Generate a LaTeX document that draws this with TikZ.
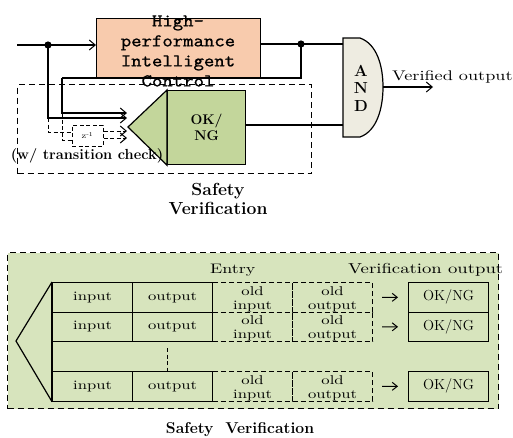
\documentclass[tikz,border=0pt]{standalone}
\usepackage{fontspec}
\usetikzlibrary{arrows.meta}
% wide serif for the plain labels, a mono face for the controller block
\newfontfamily\widerm{lmroman10-regular.otf}[FakeStretch=1.3]
\newfontfamily\hpicmono{lmmono10-regular.otf}[FakeStretch=1.1,FakeBold=0.8]

\definecolor{peach}{HTML}{F8CBAD}
\definecolor{okgreen}{HTML}{C3D69B}
\definecolor{bggreen}{HTML}{D7E4BD}
\definecolor{andgray}{HTML}{EEECE1}

\begin{document}
\begin{tikzpicture}[x=1pt,y=-1pt,
  wire/.style={line width=1.1pt},
  barb/.style={-{Straight Barb[length=6pt,width=10pt,line width=1pt]}},
  smallbarb/.style={-{Straight Barb[length=5pt,width=8pt,line width=1pt]}},
  dline/.style={line width=1pt,dash pattern=on 4pt off 2.5pt},
  dbox/.style={line width=1.1pt,dash pattern=on 6pt off 4pt},
  blk/.style={draw,line width=1.2pt,inner sep=0pt,anchor=north west},
  cell/.style={draw,line width=1.2pt,inner sep=0pt,anchor=north west,
    minimum width=80pt,minimum height=29.5pt,
    font=\widerm\fontsize{12.8}{14}\selectfont},
  dcell/.style={cell,line width=1.1pt,dash pattern=on 5pt off 3pt},
  oldtxt/.style={anchor=base,font=\widerm\fontsize{12.8}{14}\selectfont},
  boldlbl/.style={font=\bfseries\fontsize{17.5}{19}\selectfont,align=center}
]
\useasboundingbox (0,0) rectangle (513,437);

% ---------- upper block: controller with safety verification ----------
\node[blk,dbox,minimum width=294pt,minimum height=89pt] (svbox) at (17,84) {};

\node[blk,fill=peach,minimum width=164pt,minimum height=59pt] (hpic) at (96,18) {};
\node[font=\hpicmono\fontsize{18}{20}\selectfont,align=center] (hpictext) at (178,51)
  {High-\\performance\\Intelligent\\Control};

% input line and its branch point
\coordinate (in) at (17,45);
\coordinate (split) at (48,45);
\draw[wire,barb] (in) -- (in -| hpic.west);
\fill (split) circle (3.6);

% checker: triangle and OK/NG block
\coordinate (tip) at (128,127);
\node[blk,fill=okgreen,minimum width=78pt,minimum height=74pt,
  font=\bfseries\fontsize{14}{16}\selectfont,align=center] (okng) at (167,90) {OK/\\NG};
\draw[line width=1.2pt,fill=okgreen] (okng.north west) -- (tip) -- (okng.south west) -- cycle;

% AND gate
\coordinate (andtl) at (343,38);
\coordinate (andout) at (383,87);
\draw[line width=1.2pt,fill=andgray] (andtl) -- (360,38)
  .. controls (377,44) and (383,66) .. (andout)
  .. controls (383,108) and (377,131) .. (360,137) -- (343,137) -- cycle;
\node[font=\bfseries\fontsize{16}{18}\selectfont,anchor=base] (andA) at (361,76) {A};
\node[font=\bfseries\fontsize{16}{18}\selectfont,anchor=base] (andN) at (361,93) {N};
\node[font=\bfseries\fontsize{16}{18}\selectfont,anchor=base] (andD) at (361,111) {D};

% controller output to the gate, with feedback tap
\coordinate (outdot) at (301,44);
\coordinate (fbl) at (62,78);
\draw[wire] (hpic.east |- outdot) -- (andtl |- outdot);
\fill (outdot) circle (3.6);
\draw[wire] (outdot) |- (fbl);

% present input / output to the checker
\coordinate (endA) at (127,113);
\coordinate (endB) at (127,118);
\draw[wire,barb] (fbl) |- (endA);
\draw[wire,barb] (split) |- (endB);

% delayed values through z^-1
\node[draw,dline,minimum width=31pt,minimum height=21pt,inner sep=0pt,
  font=\widerm\fontsize{8}{9}\selectfont] (zbox) at (87.5,135.5) {z\textsuperscript{-1}};
\draw[dline] (split |- endB) |- (zbox.west |- 0,132);
\draw[dline] (fbl |- endA) |- (zbox.west |- 0,140);
\draw[dline,barb] (zbox.east |- 0,131) -- (127,131);
\draw[dline,barb] (zbox.east |- 0,138) -- (127,138);

\node[font=\bfseries\fontsize{14.6}{16}\selectfont,anchor=base] (trlbl) at (87,159)
  {(w/ transition check)};

% checker result to the gate
\draw[wire] (okng.east |- 0,125) -- (andtl |- 0,125);

% verified output
\coordinate (vout) at (433,87);
\draw[wire,barb] (andout) -- (vout);
\node[font=\widerm\fontsize{14}{16}\selectfont,anchor=base west,inner sep=0pt] (vlbl) at (392,80)
  {Verified output};

\node[boldlbl] (svlbl) at (218,199) {Safety\\Verification};

% ---------- lower block: verification table ----------
\node[blk,dbox,fill=bggreen,minimum width=491pt,minimum height=156pt] (tblbox) at (7,252) {};

\node[font=\widerm\fontsize{13.8}{15}\selectfont,anchor=base west,inner sep=0pt] (entry) at (210,273) {Entry};
\node[font=\widerm\fontsize{14.4}{15}\selectfont,anchor=base west,inner sep=0pt] (vo) at (348,273) {Verification output};

\foreach \r/\y in {1/282,2/311.5,3/371}{
  \node[cell] (in\r) at (52,\y) {input};
  \node[cell] (out\r) at (132,\y) {output};
  \node[dcell] (oi\r) at (212,\y) {};
  \node[dcell] (oo\r) at (292,\y) {};
  \node[cell,font=\fontsize{14.5}{16}\selectfont] (ok\r) at (408,\y) {OK/NG};
  \node[oldtxt] (oiA\r) at ([yshift=-13pt]oi\r.north) {old};
  \node[oldtxt] (oiB\r) at ([yshift=-27pt]oi\r.north) {input};
  \node[oldtxt] (ooA\r) at ([yshift=-13pt]oo\r.north) {old};
  \node[oldtxt] (ooB\r) at ([yshift=-27pt]oo\r.north) {output};
  \draw[wire,smallbarb,shorten <=9pt,shorten >=10pt] (oo\r.east) -- (ok\r.west);
}
\draw[line width=1.2pt] (in1.north west) -- (in3.south west);
\coordinate (ltip) at (16,341);
\draw[line width=1.2pt] (in1.north west) -- (ltip) -- (in3.south west);

\coordinate (gapdash) at (167,348);
\draw[dline] (gapdash) -- (gapdash |- out3.north);

\node[font=\bfseries\fontsize{15.7}{17}\selectfont,anchor=base] (svlbl2) at (240,433)
  {Safety\ \ Verification};
\end{tikzpicture}
\end{document}
